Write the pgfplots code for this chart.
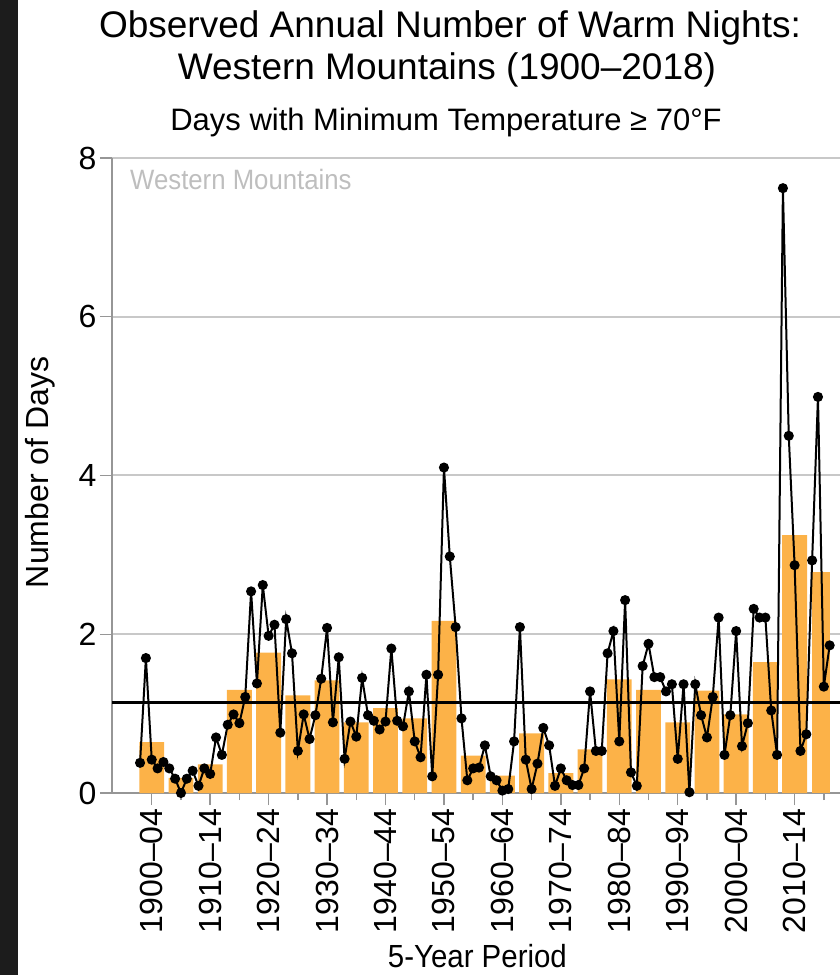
\documentclass[border=0pt]{standalone}
\usepackage{fontspec}
\setmainfont{Liberation Sans}
\newfontfamily\narrowsans[FakeStretch=0.92]{Liberation Sans}
\usepackage{pgfplots}
\pgfplotsset{compat=1.18}
\definecolor{barorange}{RGB}{252,178,72}
\definecolor{gridgray}{RGB}{200,200,200}
\definecolor{axisgray}{RGB}{150,150,150}
\definecolor{stripdark}{RGB}{28,28,28}
\definecolor{labelgray}{RGB}{190,190,190}
\begin{document}
\begin{tikzpicture}[x=1pt,y=1pt]
\useasboundingbox (0,0) rectangle (840,975);
\clip (0,0) rectangle (840,975);
\fill[stripdark] (0,0) rectangle (18,975);
\begin{axis}[
  at={(112pt,182pt)}, anchor=south west,
  scale only axis, width=735.2pt, height=635pt,
  xmin=1895.2, xmax=2021, ymin=0, ymax=8,
  clip=false,
  axis x line*=bottom, axis y line*=left,
  axis line style={axisgray, line width=2pt},
  ytick={0,2,4,6,8},
  ymajorgrids, grid style={gridgray, line width=2pt},
  xtick={1902,1912,1922,1932,1942,1952,1962,1972,1982,1992,2002,2012},
  xticklabels={1900--04,1910--14,1920--24,1930--34,1940--44,1950--54,1960--64,1970--74,1980--84,1990--94,2000--04,2010--14},
  minor xtick={1907,1917,1927,1937,1947,1957,1967,1977,1987,1997,2007,2017},
  tick align=outside, major tick length=12pt, minor tick length=7pt,
  tick style={axisgray, line width=1.5pt},
  /pgf/number format/assume math mode=true,
  ticklabel style={font=\fontsize{32}{38}\selectfont},
  xticklabel style={rotate=90, anchor=east},
  xlabel={5-Year Period},
  ylabel={Number of Days},
  every axis x label/.style={at={(axis description cs:0.497,0)}, anchor=base, yshift=-174pt, font=\fontsize{32}{38}\selectfont\narrowsans},
  every axis y label/.style={at={(axis description cs:0,0.5)}, xshift=-63pt, yshift=3pt, rotate=90, anchor=base, font=\fontsize{32}{38}\selectfont},
]
\addplot[ybar, bar width=4.25, bar shift=0pt, fill=barorange, draw=none] coordinates {
(1902,0.64) (1907,0.19) (1912,0.36) (1917,1.30) (1922,1.77) (1927,1.23) (1932,1.42) (1937,0.89)
(1942,1.07) (1947,0.94) (1952,2.17) (1957,0.47) (1962,0.22) (1967,0.75) (1972,0.25) (1977,0.55)
(1982,1.43) (1987,1.30) (1992,0.89) (1997,1.29) (2002,0.99) (2007,1.65) (2012,3.25)};
\addplot[ybar, bar width=3.2, bar shift=0pt, fill=barorange, draw=none] coordinates {(2016.5,2.78)};
\addplot[black, line width=3pt, no marks] coordinates {(1895.2,1.14) (2021,1.14)};
\addplot[black, line width=2pt, mark=*, mark size=4pt] coordinates {
(1900,0.38) (1901,1.70) (1902,0.42) (1903,0.31) (1904,0.39) (1905,0.31) (1906,0.18) (1907,0.00) (1908,0.18) (1909,0.28)
(1910,0.09) (1911,0.31) (1912,0.24) (1913,0.70) (1914,0.48) (1915,0.86) (1916,0.99) (1917,0.88) (1918,1.21) (1919,2.54)
(1920,1.38) (1921,2.62) (1922,1.98) (1923,2.12) (1924,0.76) (1925,2.19) (1926,1.76) (1927,0.53) (1928,0.99) (1929,0.68)
(1930,0.98) (1931,1.44) (1932,2.08) (1933,0.89) (1934,1.71) (1935,0.43) (1936,0.90) (1937,0.71) (1938,1.45) (1939,0.98)
(1940,0.91) (1941,0.80) (1942,0.90) (1943,1.82) (1944,0.91) (1945,0.84) (1946,1.28) (1947,0.65) (1948,0.45) (1949,1.49)
(1950,0.21) (1951,1.49) (1952,4.10) (1953,2.98) (1954,2.09) (1955,0.94) (1956,0.16) (1957,0.31) (1958,0.32) (1959,0.60)
(1960,0.21) (1961,0.16) (1962,0.03) (1963,0.05) (1964,0.65) (1965,2.09) (1966,0.42) (1967,0.05) (1968,0.37) (1969,0.82)
(1970,0.60) (1971,0.09) (1972,0.31) (1973,0.16) (1974,0.10) (1975,0.10) (1976,0.31) (1977,1.28) (1978,0.53) (1979,0.53)
(1980,1.76) (1981,2.04) (1982,0.65) (1983,2.43) (1984,0.26) (1985,0.09) (1986,1.60) (1987,1.88) (1988,1.46) (1989,1.46)
(1990,1.28) (1991,1.37) (1992,0.43) (1993,1.37) (1994,0.01) (1995,1.37) (1996,0.98) (1997,0.70) (1998,1.21) (1999,2.21)
(2000,0.48) (2001,0.98) (2002,2.04) (2003,0.59) (2004,0.88) (2005,2.32) (2006,2.21) (2007,2.21) (2008,1.04) (2009,0.48)
(2010,7.62) (2011,4.50) (2012,2.87) (2013,0.53) (2014,0.74) (2015,2.93) (2016,4.99) (2017,1.34) (2018,1.86)};
\end{axis}
\node[anchor=base west, text=labelgray, font=\fontsize{28}{34}\selectfont\narrowsans, inner sep=0pt] at (130,785) {Western Mountains};
\node[anchor=base, font=\fontsize{37}{44}\selectfont, inner sep=0pt] at (450,937) {Observed Annual Number of Warm Nights:};
\node[anchor=base, font=\fontsize{37}{44}\selectfont, inner sep=0pt] at (447,895) {Western Mountains (1900–2018)};
\node[anchor=base, font=\fontsize{31}{37}\selectfont, inner sep=0pt] at (446,844) {Days with Minimum Temperature ≥ 70°F};
\end{tikzpicture}
\end{document}
